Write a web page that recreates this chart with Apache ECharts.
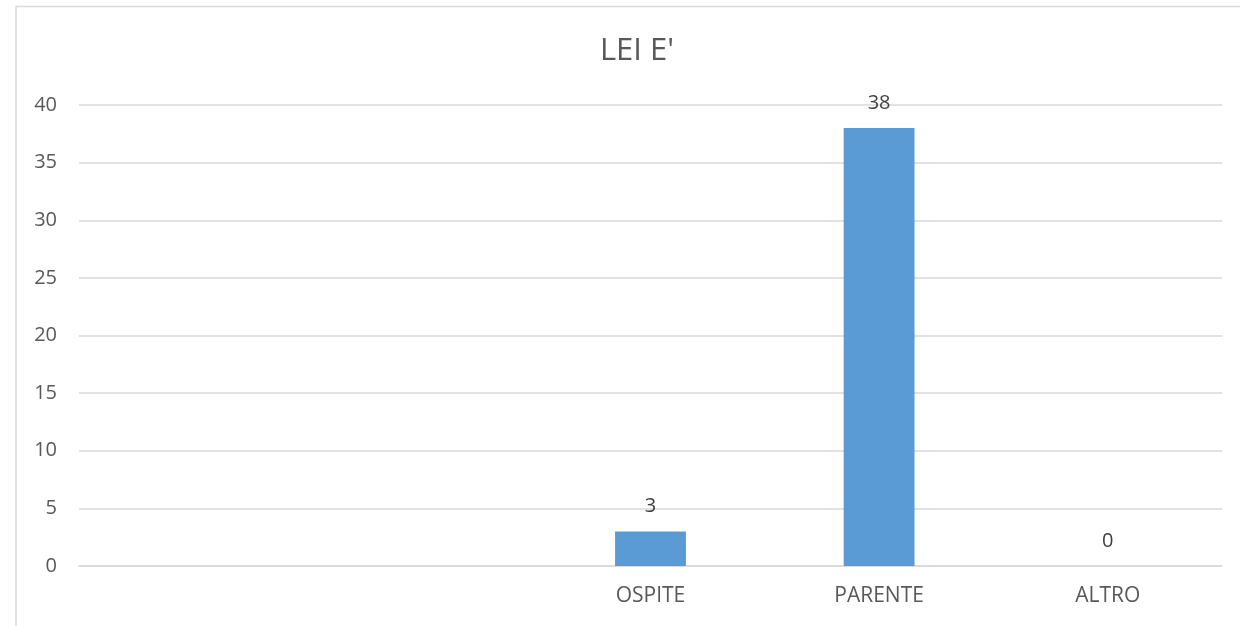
<!DOCTYPE html>
<html>
<head>
<meta charset="utf-8">
<script src="https://cdn.jsdelivr.net/npm/echarts@6/dist/echarts.min.js"></script>
<style>html,body{margin:0;padding:0;background:#fff;}#c{width:1240px;height:626px;}</style>
</head>
<body>
<div id="c"></div>
<script>
var categories = ["", "", "OSPITE", "PARENTE", "ALTRO"];
var values = [null, null, 3, 38, 0];
var yTicks = { min: 0, max: 40, interval: 5 };

var chart = echarts.init(document.getElementById('c'));
var font = '"Open Sans", "Liberation Sans", sans-serif';
chart.setOption({
  animation: false,
  backgroundColor: '#fff',
  title: {
    text: "LEI E'",
    left: 632, top: 31, textAlign: 'center',
    textStyle: { fontFamily: font, fontSize: 31, fontWeight: 'normal', color: '#595959' }
  },
  graphic: [{
    type: 'polyline',
    shape: { points: [[16, 640], [16, 6.5], [1250, 6.5]] },
    style: { stroke: '#d9d9d9', lineWidth: 1.5, fill: null },
    silent: true
  }],
  grid: { left: 79, right: 18, top: 105, bottom: 60 },
  xAxis: {
    type: 'category',
    data: categories,
    axisLine: { show: true, lineStyle: { color: '#d9d9d9', width: 1.5 } },
    axisTick: { show: false },
    axisLabel: { color: '#595959', fontFamily: font, fontSize: 21, margin: 20 }
  },
  yAxis: {
    type: 'value',
    min: yTicks.min, max: yTicks.max, interval: yTicks.interval,
    axisLine: { show: false },
    axisTick: { show: false },
    splitLine: { lineStyle: { color: '#d9d9d9', width: 1.5 } },
    axisLabel: { color: '#595959', fontFamily: font, fontSize: 20, margin: 22 }
  },
  series: [{
    type: 'bar',
    data: values,
    barWidth: '31%',
    itemStyle: { color: '#5b9bd5' },
    label: {
      show: true, position: 'top', distance: 15,
      color: '#404040', fontFamily: font, fontSize: 20,
      formatter: function (p) { return p.value == null ? '' : p.value; }
    }
  }]
});
</script>
</body>
</html>
